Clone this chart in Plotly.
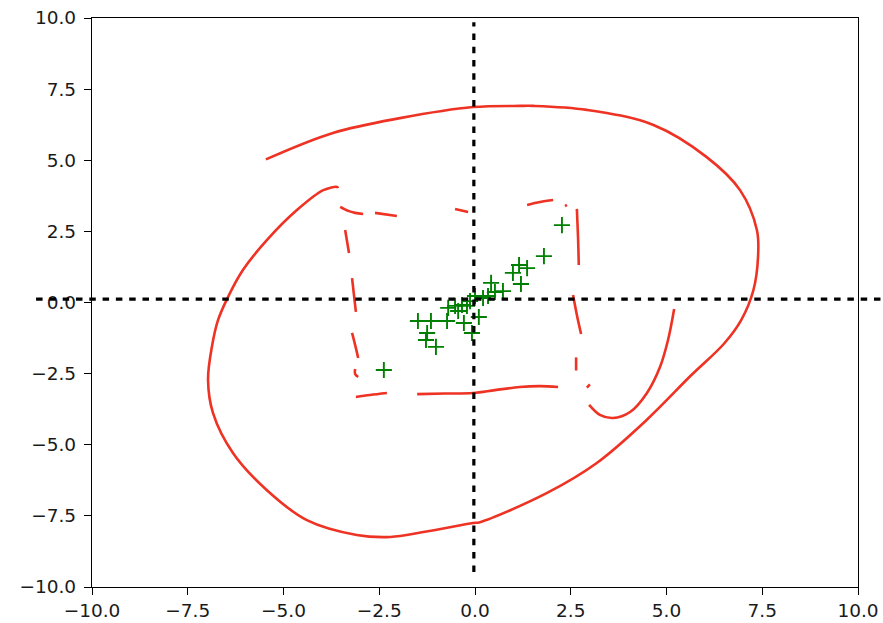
import plotly.graph_objects as go

# ---- axis ----
x_range = [-10, 10]
y_range = [-10, 10]
tick_vals = [-10.0, -7.5, -5.0, -2.5, 0.0, 2.5, 5.0, 7.5, 10.0]

# ---- reference lines (dotted) ----
hline_y = 0.12
hline_x = [-11.46, 11.5]
vline_x = -0.03
vline_y = [-9.47, 9.85]

# ---- red hand-drawn curve, pieces separated by None ----
curve_x = [
    # big loop
    -5.46, -3.71, -1.96, -0.05, 1.17, 1.52, 2.92, 4.66, 6.05, 6.92, 7.36, 7.39, 7.27, 6.95, 6.50, 5.65,
    4.48, 3.18, 1.87, 0.13, -0.05, -1.35, -2.21, -3.09, -4.39, -5.44, -6.32, -6.84, -6.97, -6.87, -6.71, -6.45,
    -6.06, -5.43, -4.65, -3.96, -3.60, -3.58, None,
    # square top
    -3.52, -3.31, -3.13, -2.92, None,
    -2.61, -2.04, None,
    -0.52, -0.18, None,
    1.36, 1.70, 2.04, None,
    2.35, 2.40, None,
    # square right
    2.66, 2.69, 2.71, None,
    2.56, 2.66, 2.77, None,
    2.64, 2.64, None,
    2.92, 3.00, None,
    # square bottom
    -1.51, -0.78, -0.05, 0.52, 1.17, 1.70, 2.17, None,
    -3.11, -2.74, -2.30, None,
    # square left
    -3.39, -3.29, None,
    -3.21, -3.16, -3.11, None,
    -3.21, -3.13, -3.05, None,
    -3.13, -3.13, -3.05, None,
    # hook
    2.98, 3.26, 3.60, 4.05, 4.49, 4.83, 5.04, 5.20,
]
curve_y = [
    5.03, 5.96, 6.48, 6.87, 6.91, 6.91, 6.77, 6.24, 5.11, 3.95, 2.55, 1.60, 0.44, -0.62, -1.45, -2.55,
    -4.13, -5.64, -6.70, -7.72, -7.75, -8.07, -8.24, -8.17, -7.65, -6.59, -5.29, -3.89, -2.72, -1.56, -0.62, 0.19,
    1.14, 2.20, 3.25, 3.95, 4.06, 4.02, None,
    3.36, 3.22, 3.15, 3.11, None,
    3.15, 3.04, None,
    3.29, 3.18, None,
    3.43, 3.53, 3.60, None,
    3.39, 3.43, None,
    3.29, 2.30, 1.32, None,
    0.26, -0.44, -1.11, None,
    -1.93, -2.39, None,
    -2.99, -2.88, None,
    -3.22, -3.20, -3.18, -3.08, -2.97, -2.94, -2.97, None,
    -3.32, -3.25, -3.18, None,
    2.55, 1.74, None,
    0.86, 0.26, -0.33, None,
    -1.07, -1.49, -1.95, None,
    -2.34, -2.51, -2.62, None,
    -3.60, -3.95, -4.06, -3.85, -3.18, -2.27, -1.32, -0.23,
]

# ---- green '+' points ----
pts_x = [2.27, 1.80, 1.15, 1.36, 0.99, 1.20, 0.42, 0.73, 0.52, 0.34, 0.21, 0.00, -0.13, -0.34,
         -0.52, -0.44, -0.70, -0.21, 0.10, -0.29, -0.08, -0.73, -1.49, -1.15, -1.25, -1.28, -1.02, -2.38]
pts_y = [2.72, 1.63, 1.32, 1.21, 1.04, 0.65, 0.69, 0.40, 0.37, 0.23, 0.16, 0.23, 0.05, -0.09,
         -0.12, -0.30, -0.19, -0.12, -0.51, -0.72, -1.07, -0.65, -0.65, -0.65, -1.07, -1.32, -1.56, -2.37]

fig = go.Figure()
fig.add_trace(go.Scatter(x=curve_x, y=curve_y, mode="lines", connectgaps=False,
                         line=dict(color="#ee3223", width=2.6, shape="spline", smoothing=1.0),
                         hoverinfo="skip"))
fig.add_trace(go.Scatter(x=pts_x, y=pts_y, mode="markers",
                         marker=dict(symbol="cross-thin", size=11.5,
                                     line=dict(color="#008000", width=1.9), color="#008000")))

def to_paper_x(v):
    return (v - x_range[0]) / (x_range[1] - x_range[0])

dot = dict(color="black", width=3.2, dash="6.5px,6.8px")
fig.add_shape(type="line", xref="paper", yref="y",
              x0=to_paper_x(hline_x[0]), x1=to_paper_x(hline_x[1]), y0=hline_y, y1=hline_y,
              line=dot, layer="above")
fig.add_shape(type="line", xref="x", yref="y",
              x0=vline_x, x1=vline_x, y0=vline_y[0], y1=vline_y[1],
              line=dot, layer="above")

axis_common = dict(
    showgrid=False, zeroline=False, showline=True, mirror=True,
    linecolor="black", linewidth=1.4,
    ticks="outside", ticklen=7, tickwidth=1.4, tickcolor="black",
    tickvals=tick_vals, tickformat=".1f",
    tickfont=dict(family="DejaVu Sans", size=18.5, color="#1a1a1a"),
    automargin=False,
)
fig.update_xaxes(range=x_range, ticklabelstandoff=0, **axis_common)
fig.update_yaxes(range=y_range, ticklabelstandoff=4, **axis_common)

fig.update_layout(
    width=883, height=623,
    margin=dict(l=92, r=25, t=18, b=36),
    paper_bgcolor="white", plot_bgcolor="white",
    showlegend=False,
)

fig.write_html("out.html")
